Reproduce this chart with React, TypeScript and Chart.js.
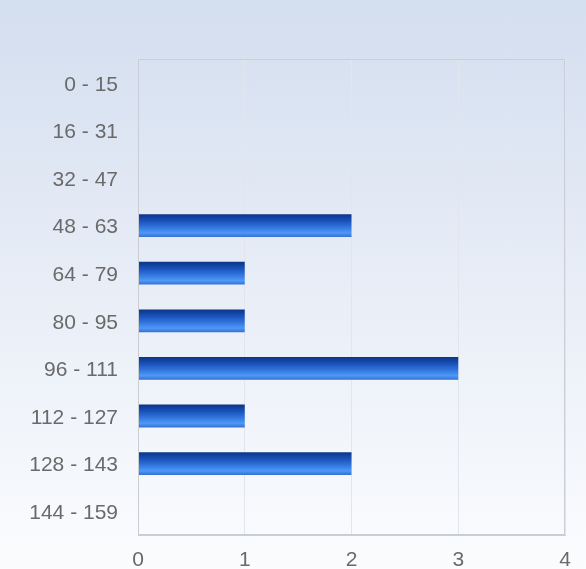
import React, { useEffect, useRef } from "react";
import { Chart, registerables } from "chart.js";

Chart.register(...registerables);

const categories = [
  "0 - 15",
  "16 - 31",
  "32 - 47",
  "48 - 63",
  "64 - 79",
  "80 - 95",
  "96 - 111",
  "112 - 127",
  "128 - 143",
  "144 - 159",
];
const counts = [0, 0, 0, 2, 1, 1, 3, 1, 2, 0];
const xTicks = [0, 1, 2, 3, 4];

const BAR_PCT = 0.48;

export default function App() {
  const ref = useRef<HTMLCanvasElement | null>(null);

  useEffect(() => {
    const canvas = ref.current;
    if (!canvas) return;

    const barFill = (ctx: any) => {
      const chart = ctx.chart;
      const y = chart.scales?.y;
      const c = chart.ctx;
      if (!y || !c || ctx.dataIndex === undefined) return "#2a66d0";
      const center = y.getPixelForValue(ctx.dataIndex);
      const step = y.height / categories.length;
      const h = step * BAR_PCT;
      if (!isFinite(center) || !isFinite(h) || h <= 0) return "#2a66d0";
      const g = c.createLinearGradient(0, center - h / 2, 0, center + h / 2);
      g.addColorStop(0, "#0b3486");
      g.addColorStop(0.3, "#1a52bb");
      g.addColorStop(0.6, "#3479e0");
      g.addColorStop(0.82, "#4f98f7");
      g.addColorStop(1, "#3470cf");
      return g;
    };

    const chart = new Chart(canvas, {
      type: "bar",
      data: {
        labels: categories,
        datasets: [
          {
            data: counts,
            backgroundColor: barFill,
            borderWidth: 0,
            barPercentage: BAR_PCT,
            categoryPercentage: 1,
          },
        ],
      },
      options: {
        indexAxis: "y",
        animation: false,
        responsive: false,
        maintainAspectRatio: false,
        layout: { padding: { top: 59, right: 21, left: 0, bottom: 0 } },
        plugins: {
          legend: { display: false },
          tooltip: { enabled: false },
        },
        scales: {
          x: {
            min: 0,
            max: 4,
            afterBuildTicks: (scale: any) => {
              scale.ticks = xTicks.map((v) => ({ value: v }));
            },
            afterFit: (scale: any) => {
              scale.height = 34;
            },
            grid: {
              color: "#e1e5ec",
              drawTicks: false,
              lineWidth: 1,
            },
            border: { display: true, color: "#c9ced6", width: 1 },
            ticks: {
              padding: 13,
              color: "#6a6a6a",
              font: { family: "'Liberation Sans', Arial, sans-serif", size: 21 },
            },
          },
          y: {
            afterFit: (scale: any) => {
              scale.width = 138;
            },
            grid: { display: false, drawTicks: false },
            border: { display: true, color: "#c9ced6", width: 1 },
            ticks: {
              padding: 20,
              labelOffset: 2,
              color: "#6a6a6a",
              font: { family: "'Liberation Sans', Arial, sans-serif", size: 21 },
            },
          },
        },
      },
      plugins: [
        {
          id: "frame",
          afterDraw(chart: any) {
            const { ctx, chartArea } = chart;
            ctx.save();
            ctx.strokeStyle = "#c9ced6";
            ctx.lineWidth = 1;
            ctx.strokeRect(
              Math.round(chartArea.left) + 0.5,
              Math.round(chartArea.top) + 0.5,
              Math.round(chartArea.right - chartArea.left) - 1,
              Math.round(chartArea.bottom - chartArea.top) - 1
            );
            ctx.restore();
          },
        },
      ],
    });

    return () => chart.destroy();
  }, []);

  return (
    <div
      style={{
        position: "absolute",
        left: 0,
        top: 0,
        width: 586,
        height: 569,
        background: "linear-gradient(to bottom, #d3deef 0%, #e6ecf6 45%, #fbfcfe 100%)",
      }}
    >
      <canvas ref={ref} width={586} height={569} style={{ display: "block" }} />
    </div>
  );
}
